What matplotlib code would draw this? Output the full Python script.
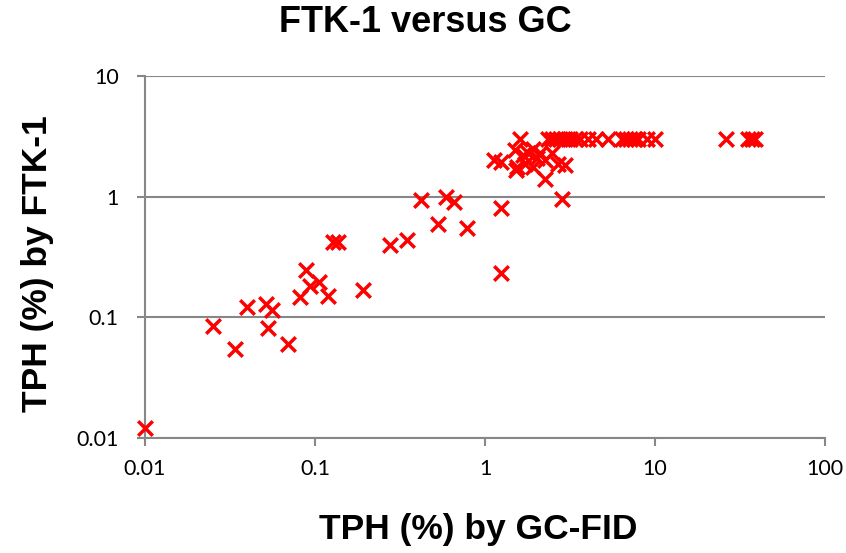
import matplotlib
matplotlib.use("Agg")
import matplotlib.pyplot as plt
from matplotlib.ticker import FixedLocator, NullLocator

# GC-FID (x) vs FTK-1 (y), TPH %
gc = [0.01, 0.025, 0.034, 0.04, 0.0515, 0.056, 0.053, 0.069, 0.082,
      0.0885, 0.094, 0.105, 0.12, 0.128, 0.137, 0.192, 0.276, 0.349,
      0.419, 0.531, 0.59, 0.657, 0.78, 1.25, 1.25,
      1.13, 1.25, 1.5, 1.53, 1.55, 1.67, 1.72, 1.8, 1.92, 1.92, 2.01,
      2.11, 2.25, 2.25, 2.47, 2.7, 2.96, 2.82,
      1.61, 2.35, 2.48, 2.62, 2.76, 2.96, 3.16, 3.38, 3.62, 4.04, 4.5,
      5.29, 6.4, 6.75, 7.12, 7.52, 7.94, 8.97, 10.0, 26.0, 35.2, 37.2, 38.6]
ftk = [0.012, 0.085, 0.055, 0.121, 0.128, 0.115, 0.081, 0.06, 0.147,
       0.247, 0.181, 0.195, 0.15, 0.42, 0.42, 0.168, 0.398, 0.435,
       0.946, 0.598, 1.0, 0.9, 0.545, 0.8, 0.231,
       2.0, 1.95, 2.42, 1.66, 1.76, 2.2, 1.88, 2.28, 1.76, 2.5, 2.1,
       2.28, 2.0, 1.41, 2.28, 1.88, 1.82, 0.95,
       3.0, 3.0, 3.0, 3.0, 3.0, 3.0, 3.0, 3.0, 3.0, 3.0, 3.0,
       3.0, 3.0, 3.0, 3.0, 3.0, 3.0, 3.0, 3.0, 3.0, 3.0, 3.0, 3.0]

xticks = [0.01, 0.1, 1, 10, 100]
xticklabels = ["0.01", "0.1", "1", "10", "100"]
yticks = [0.01, 0.1, 1, 10]
yticklabels = ["0.01", "0.1", "1", "10"]

fig = plt.figure(figsize=(8.46, 5.53), dpi=100)
ax = fig.add_axes([145/846, 1-438/553, 680/846, 362/553])

ax.scatter(gc, ftk, marker="x", s=110, linewidths=2.5, color="#ff0000",
           zorder=3, clip_on=False)

ax.set_xscale("log")
ax.set_yscale("log")
ax.set_xlim(0.01, 100)
ax.set_ylim(0.01, 10)

ax.xaxis.set_major_locator(FixedLocator(xticks))
ax.yaxis.set_major_locator(FixedLocator(yticks))
ax.xaxis.set_minor_locator(NullLocator())
ax.yaxis.set_minor_locator(NullLocator())
ax.set_xticklabels(xticklabels)
ax.set_yticklabels(yticklabels)

grey = "#878787"
ax.grid(axis="y", color=grey, linewidth=1.5)
ax.set_axisbelow(True)
for s in ["top", "right"]:
    ax.spines[s].set_visible(False)
for s in ["left", "bottom"]:
    ax.spines[s].set_color(grey)
    ax.spines[s].set_linewidth(1.5)
ax.tick_params(axis="both", direction="out", length=6, width=1.5, color=grey,
               labelsize=15.5)
ax.tick_params(axis="x", pad=9)
ax.tick_params(axis="y", pad=13)
for lab in ax.get_xticklabels() + ax.get_yticklabels():
    lab.set_family("Lato")

bold = dict(family="Liberation Sans", weight="bold")
fig.text(425/846, 1-22/553, "FTK-1 versus GC", ha="center", va="center",
         fontsize=26, **bold)
fig.text(478/846, 1-530/553, "TPH (%) by GC-FID", ha="center", va="center",
         fontsize=25.5, **bold)
fig.text(38/846, 1-264/553, "TPH (%) by FTK-1", ha="center", va="center",
         rotation=90, fontsize=25.5, **bold)

fig.savefig("out.png", dpi=100)
